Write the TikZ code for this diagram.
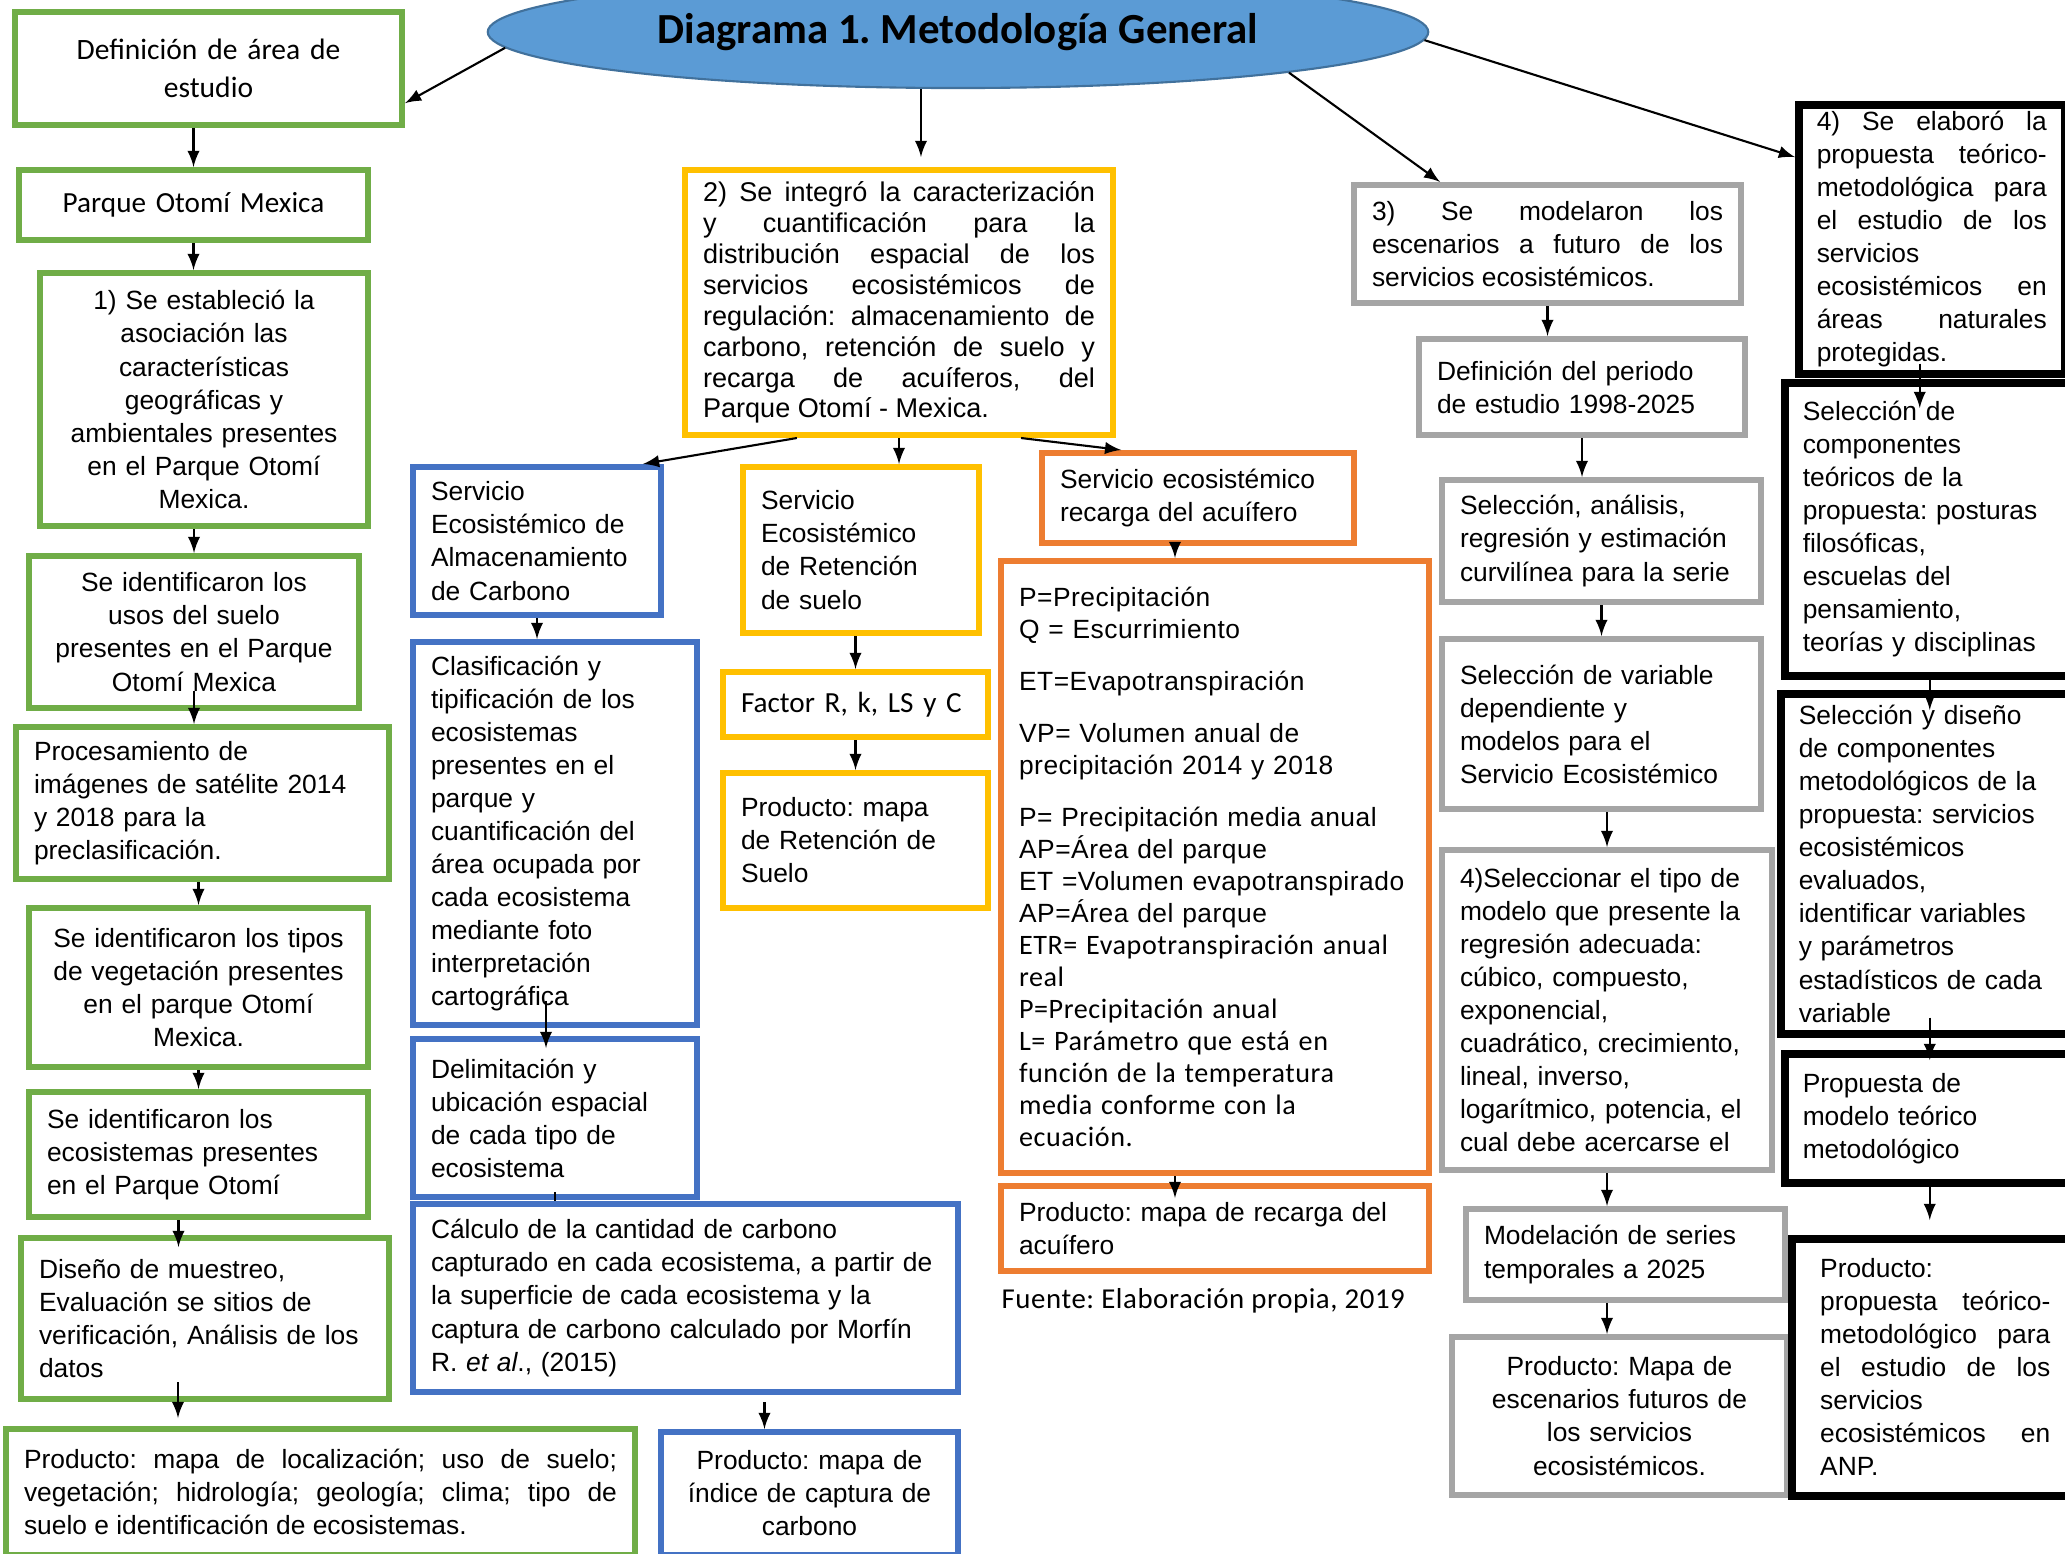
\documentclass[tikz,border=0pt]{standalone}
\usepackage{fontspec}
\setmainfont{Liberation Sans}
\newfontfamily\calib{Carlito}
\newfontfamily\calibsp[LetterSpace=2.0]{Carlito}
\newfontfamily\arialsp[LetterSpace=2.0]{Liberation Sans}
\usepackage{tikz}
\usetikzlibrary{positioning,shapes,arrows}
\definecolor{sgreen}{HTML}{70AD47}
\definecolor{sblue}{HTML}{4472C4}
\definecolor{syellow}{HTML}{FFC000}
\definecolor{sorange}{HTML}{ED7D31}
\definecolor{sgray}{HTML}{A5A5A5}
\definecolor{titleblue}{HTML}{5B9BD5}
\definecolor{titleline}{HTML}{41719C}
\newcommand{\txt}{\fontsize{7.5}{9.4}\selectfont}
\newcommand{\boxnode}[7]{
  \pgfmathsetmacro{\tw}{(#5-36)*0.01}
  \pgfmathsetmacro{\bw}{#5*0.01}
  \pgfmathsetmacro{\bh}{#6*0.01}
  \node[text width=\tw cm, minimum width=\bw cm, minimum height=\bh cm, #2] (#1) at (#3,#4) {#7};
}
\tikzset{
  stepbox/.style={draw, line width=0.06cm, anchor=north west, inner xsep=0.18cm, inner ysep=0.05cm, font=\txt, align=left},
  greenbox/.style={stepbox, draw=sgreen},
  bluebox/.style={stepbox, draw=sblue},
  yellowbox/.style={stepbox, draw=syellow},
  orangebox/.style={stepbox, draw=sorange},
  graybox/.style={stepbox, draw=sgray},
  blackbox/.style={stepbox, draw=black, line width=0.075cm},
  link/.style={->, >=latex, line width=0.6pt}
}

\begin{document}
\frenchspacing
\begin{tikzpicture}[x=0.01cm,y=-0.01cm]
\useasboundingbox (0,0) rectangle (2065,1554);
\node[ellipse, draw=titleline, fill=titleblue, line width=0.6pt, minimum width=9.4cm, minimum height=1.12cm, inner sep=0,
  font=\calib\bfseries\fontsize{12.2}{14}\selectfont] (title) at (958,32) {Diagrama 1. Metodología General};

% green column
\boxnode{area}{greenbox, align=center, font=\calib\fontsize{8.4}{10.8}\selectfont}{12}{9}{387}{113}{Definición de área de\\ estudio}
\boxnode{parque}{greenbox, align=center, font=\calib\fontsize{8.3}{10}\selectfont}{16}{167}{349}{70}{Parque Otomí Mexica}
\boxnode{asoc}{greenbox, align=center}{37}{270}{328}{253}{1) Se estableció la\\ asociación las\\ características\\ geográficas y\\ ambientales presentes\\ en el Parque Otomí\\ Mexica.}
\boxnode{usos}{greenbox, align=center}{26}{553}{330}{152}{Se identificaron los\\ usos del suelo\\ presentes en el Parque\\ Otomí Mexica}
\boxnode{imag}{greenbox}{13}{724}{373}{152}{Procesamiento de\\ imágenes de satélite 2014\\ y 2018 para la\\ preclasificación.}
\boxnode{veget}{greenbox, align=center}{26}{905}{339}{159}{Se identificaron los tipos\\ de vegetación presentes\\ en el parque Otomí\\ Mexica.}
\boxnode{ecos}{greenbox}{26}{1089}{339}{125}{Se identificaron los\\ ecosistemas presentes\\ en el Parque Otomí}
\boxnode{muestreo}{greenbox}{18}{1235}{368}{161}{Diseño de muestreo,\\ Evaluación se sitios de\\ verificación, Análisis de los\\ datos}
\boxnode{prodg}{greenbox, align=justify}{3}{1426}{629}{126}{Producto: mapa de localización; uso de suelo;\linebreak vegetación; hidrología; geología; clima; tipo de\linebreak suelo e identificación de ecosistemas.}

% blue column
\boxnode{almac}{bluebox}{410}{464}{248}{148}{Servicio\\ Ecosistémico de\\ Almacenamiento\\ de Carbono}
\boxnode{clasif}{bluebox}{410}{639}{284}{383}{Clasificación y\\ tipificación de los\\ ecosistemas\\ presentes en el\\ parque y\\ cuantificación del\\ área ocupada por\\ cada ecosistema\\ mediante foto\\ interpretación\\ cartográfica}
\boxnode{delim}{bluebox}{410}{1036}{284}{158}{Delimitación y\\ ubicación espacial\\ de cada tipo de\\ ecosistema}
\boxnode{calc}{bluebox}{410}{1201}{545}{188}{Cálculo de la cantidad de carbono\\ capturado en cada ecosistema, a partir de\\ la superficie de cada ecosistema y la\\ captura de carbono calculado por Morfín\\ R. \textit{et al}., (2015)}
\boxnode{prodb}{bluebox, align=center}{658}{1429}{297}{123}{Producto: mapa de\\ índice de captura de\\ carbono}

% yellow column
\boxnode{integ}{yellowbox, align=justify, font=\fontsize{7.7}{8.8}\selectfont}{682}{167}{428}{265}{2) Se integró la caracterización\linebreak y cuantificación para la\linebreak distribución espacial de los\linebreak servicios ecosistémicos de\linebreak regulación: almacenamiento de\linebreak carbono, retención de suelo y\linebreak recarga de acuíferos, del\linebreak Parque Otomí - Mexica.}
\boxnode{reten}{yellowbox}{740}{464}{236}{166}{Servicio\\ Ecosistémico\\ de Retención\\ de suelo}
\boxnode{factor}{yellowbox, font=\calib\fontsize{8.3}{10}\selectfont}{720}{669}{265}{65}{Factor R, k, LS y C}
\boxnode{prody}{yellowbox}{720}{770}{265}{135}{Producto: mapa\\ de Retención de\\ Suelo}

% orange column
\boxnode{recarga}{orangebox}{1039}{450}{312}{90}{Servicio ecosistémico\\ recarga del acuífero}
\boxnode{param}{orangebox, font=\fontsize{7.5}{9.1}\selectfont}{998}{558}{428}{612}{\arialsp P=Precipitación\\ Q = Escurrimiento\\[5.7pt] ET=Evapotranspiración\\[5.7pt] VP= Volumen anual de\\ precipitación 2014 y 2018\\[5.7pt] P= Precipitación media anual\\ AP=Área del parque\\ ET =Volumen evapotranspirado\\ AP=Área del parque\\ \calibsp\fontsize{8}{9.1}\selectfont ETR= Evapotranspiración anual\\ real\\ P=Precipitación anual\\ L= Parámetro que está en\\ función de la temperatura\\ media conforme con la\\ ecuación.}
\boxnode{prodo}{orangebox}{998}{1183}{428}{85}{Producto: mapa de recarga del\\ acuífero}
\node[anchor=west, inner xsep=0pt, font=\calibsp\fontsize{8.2}{10}\selectfont] (fuente) at (1001,1301) {Fuente: Elaboración propia, 2019};

% gray column
\boxnode{model}{graybox, align=justify}{1351}{182}{387}{118}{3) Se modelaron los\linebreak escenarios a futuro de los\linebreak servicios ecosistémicos.}
\boxnode{periodo}{graybox}{1416}{336}{326}{96}{Definición del periodo\\ de estudio 1998-2025}
\boxnode{regres}{graybox}{1439}{477}{319}{122}{Selección, análisis,\\ regresión y estimación\\ curvilínea para la serie}
\boxnode{variab}{graybox}{1439}{636}{319}{170}{Selección de variable\\ dependiente y\\ modelos para el\\ Servicio Ecosistémico}
\boxnode{tipomod}{graybox}{1439}{847}{330}{320}{4)Seleccionar el tipo de\\ modelo que presente la\\ regresión adecuada:\\ cúbico, compuesto,\\ exponencial,\\ cuadrático, crecimiento,\\ lineal, inverso,\\ logarítmico, potencia, el\\ cual debe acercarse el}
\boxnode{series}{graybox}{1463}{1206}{319}{91}{Modelación de series\\ temporales a 2025}
\boxnode{prodr}{graybox, align=center}{1449}{1334}{335}{158}{Producto: Mapa de\\ escenarios futuros de\\ los servicios\\ ecosistémicos.}

% black column
\boxnode{elab}{blackbox, align=justify}{1795}{101}{266}{269}{4) Se elaboró la\linebreak propuesta teórico-\linebreak metodológica para\linebreak el estudio de los\linebreak servicios\newline ecosistémicos en\linebreak áreas naturales\linebreak protegidas.}
\boxnode{teor}{blackbox}{1781}{379}{294}{293}{Selección de\\ componentes\\ teóricos de la\\ propuesta: posturas\\ filosóficas,\\ escuelas del\\ pensamiento,\\ teorías y disciplinas}
\boxnode{metod}{blackbox}{1777}{690}{298}{340}{Selección y diseño\\ de componentes\\ metodológicos de la\\ propuesta: servicios\\ ecosistémicos\\ evaluados,\\ identificar variables\\ y parámetros\\ estadísticos de cada\\ variable}
\boxnode{propm}{blackbox}{1781}{1050}{294}{129}{Propuesta de\\ modelo teórico\\ metodológico}
\boxnode{prodk}{blackbox, align=justify, text width=2.3cm}{1788}{1235}{287}{257}{Producto:\newline propuesta teórico-\linebreak metodológico para\linebreak el estudio de los\linebreak servicios\newline ecosistémicos en\linebreak ANP.}

% connectors from the title
\draw[link] (title.182) -- (area.-10);
\draw[link, shorten >=0.1cm] ([xshift=-0.37cm]title.south) -- ([xshift=-0.37cm]title.south |- integ.north);
\draw[link] (title.-7) -- (model.150);
\draw[link] (title.-1) -- (elab.149);

% green
\draw[link] (area.south -| parque.north) -- (parque.north);
\draw[link] (parque.south) -- (parque.south |- asoc.north);
\draw[link] (asoc.south -| usos.north) -- (usos.north);
\draw[link] ([yshift=0.2cm]usos.south) -- (usos.south |- imag.north);
\draw[link] (imag.south -| veget.north) -- (veget.north);
\draw[link] (veget.south) -- (veget.south |- ecos.north);
\draw[link] ([xshift=-0.2cm]ecos.south) -- ([xshift=-0.2cm,yshift=-0.12cm]ecos.south |- muestreo.north);
\draw[link, shorten >=0.08cm] ([xshift=-0.27cm,yshift=0.2cm]muestreo.south) -- ([xshift=-0.27cm]muestreo.south |- prodg.north);

% blue
\draw[link] (integ.233) -- (almac.36);
\draw[link] (almac.south) -- (almac.south |- clasif.north);
\draw[link] ([xshift=-0.09cm,yshift=0.27cm]clasif.south) -- ([xshift=-0.09cm,yshift=-0.12cm]delim.north);
\draw[line width=0.6pt] ([yshift=0.08cm]delim.south) -- (delim.south |- calc.north);
\draw[link] ([xshift=-0.45cm,yshift=-0.07cm]prodb.north |- calc.south) -- ([xshift=-0.45cm]prodb.north);

% yellow
\draw[link] (integ.south) -- (integ.south |- reten.north);
\draw[link] (factor.north |- reten.south) -- (factor.north);
\draw[link] (factor.south) -- (prody.north);
\draw[link] (integ.-48) -- (recarga.148);

% orange
\draw[link] ([xshift=-0.23cm]recarga.south) -- ([xshift=-0.23cm]recarga.south |- param.north);
\draw[link] ([xshift=-0.4cm]param.south) -- ([xshift=-0.4cm,yshift=-0.15cm]param.south |- prodo.north);

% gray
\draw[link] (model.south) -- (model.south |- periodo.north);
\draw[link] (periodo.south) -- (periodo.south |- regres.north);
\draw[link] (regres.south) -- (regres.south |- variab.north);
\draw[link] (tipomod.north |- variab.south) -- (tipomod.north);
\draw[link] (tipomod.south) -- (tipomod.south |- series.north);
\draw[link] (series.south -| tipomod.south) -- (tipomod.south |- prodr.north);

% black
\draw[link] ([xshift=-0.12cm,yshift=0.14cm]elab.south) -- ([xshift=-0.12cm,yshift=-0.29cm]elab.south |- teor.north);
\draw[link] (teor.south -| metod.north) -- ([yshift=-0.2cm]metod.north);
\draw[link] ([yshift=0.2cm]metod.south) -- ([yshift=-0.1cm]metod.south |- propm.north);
\draw[link] (propm.south -| metod.south) -- ([yshift=0.15cm]metod.south |- prodk.north);
\end{tikzpicture}
\end{document}
